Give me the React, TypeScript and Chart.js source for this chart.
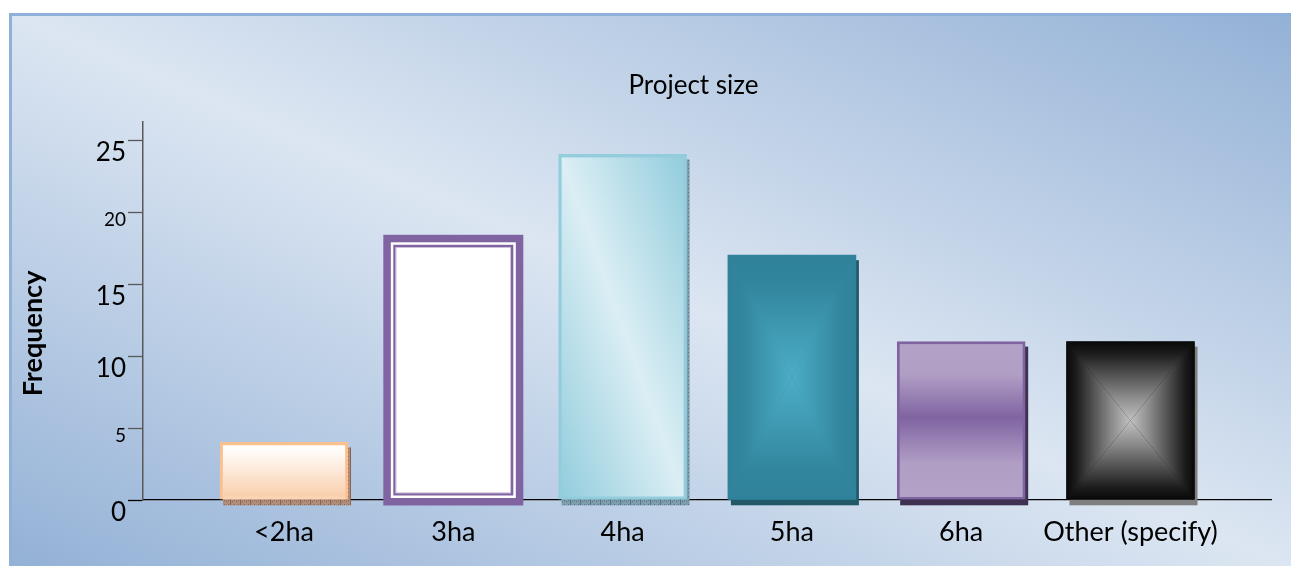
import React, { useEffect, useRef } from 'react';
import { Chart, registerables } from 'chart.js';

Chart.register(...registerables);

const categories = ['<2ha', '3ha', '4ha', '5ha', '6ha', 'Other (specify)'];
const frequencies = [4, 18, 24, 17, 11, 11];
const yTickValues = [0, 5, 10, 15, 20, 25];
const largeYTicks = [0, 10, 15, 25];
const chartTitle = 'Project size';
const yAxisTitle = 'Frequency';

const W = 1291;
const H = 566;
const FONT = 'Lato, "Open Sans", sans-serif';

type Stop = [number, string];

function diagGradient(ctx: CanvasRenderingContext2D, x0: number, y0: number, x1: number, y1: number, stops: Stop[]) {
  const w = x1 - x0;
  const h = y1 - y0;
  const cx = (x0 + x1) / 2;
  const cy = (y0 + y1) / 2;
  const L = Math.hypot(w, h);
  const nx = h / L;
  const ny = -w / L;
  const k = (w * h) / L;
  const g = ctx.createLinearGradient(cx - k * nx, cy - k * ny, cx + k * nx, cy + k * ny);
  stops.forEach(([o, c]) => g.addColorStop(o, c));
  return g;
}

function rectPathFill(ctx: CanvasRenderingContext2D, x0: number, y0: number, x1: number, y1: number, stops: Stop[]) {
  const cx = (x0 + x1) / 2;
  const cy = (y0 + y1) / 2;
  const mk = (ax: number, ay: number, bx: number, by: number) => {
    const g = ctx.createLinearGradient(ax, ay, bx, by);
    stops.forEach(([o, c]) => g.addColorStop(o, c));
    return g;
  };
  const tris: [number, number, number, number, CanvasGradient][] = [
    [x0, y0, x1, y0, mk(cx, y0, cx, cy)],
    [x1, y0, x1, y1, mk(x1, cy, cx, cy)],
    [x1, y1, x0, y1, mk(cx, y1, cx, cy)],
    [x0, y1, x0, y0, mk(x0, cy, cx, cy)],
  ];
  ctx.save();
  ctx.beginPath();
  ctx.rect(x0, y0, x1 - x0, y1 - y0);
  ctx.clip();
  for (const [ax, ay, bx, by, g] of tris) {
    ctx.beginPath();
    ctx.moveTo(ax, ay);
    ctx.lineTo(bx, by);
    ctx.lineTo(cx, cy);
    ctx.closePath();
    ctx.fillStyle = g;
    ctx.fill();
  }
  ctx.restore();
}

function makeHatch(ctx: CanvasRenderingContext2D, base: string, dark: string) {
  const c = document.createElement('canvas');
  c.width = 10;
  c.height = 4;
  const p = c.getContext('2d')!;
  p.fillStyle = base;
  p.fillRect(0, 0, 10, 4);
  p.fillStyle = dark;
  p.fillRect(0, 0, 1, 4);
  for (let x = 2; x < 10; x += 2) p.fillRect(x, (x / 2) % 2, 1, 1);
  return ctx.createPattern(c, 'repeat');
}

function barRects(chart: any) {
  const meta = chart.getDatasetMeta(0);
  return meta.data.map((el: any) => {
    const p = el.getProps(['x', 'y', 'base', 'width'], true);
    return {
      l: p.x - p.width / 2,
      r: p.x + p.width / 2,
      t: Math.min(p.y, p.base),
      b: Math.max(p.y, p.base),
    };
  });
}

const decorPlugin = {
  id: 'decor',
  beforeDraw(chart: any) {
    const ctx: CanvasRenderingContext2D = chart.ctx;
    ctx.save();
    ctx.fillStyle = '#ffffff';
    ctx.fillRect(0, 0, W, H);
    const fx0 = 9;
    const fy0 = 13;
    ctx.fillStyle = diagGradient(ctx, fx0, fy0, W, H, [
      [0, '#93b1d6'],
      [0.5, '#dce6f2'],
      [1, '#93b1d6'],
    ]);
    ctx.fillRect(fx0, fy0, W - fx0, H - fy0);
    ctx.strokeStyle = '#8fb0d9';
    ctx.lineWidth = 3;
    ctx.strokeRect(10.5, 14.5, W + 10, H + 10);
    ctx.restore();
  },
  beforeDatasetsDraw(chart: any) {
    const ctx: CanvasRenderingContext2D = chart.ctx;
    const rects = barRects(chart);
    const shadows: any[] = [
      makeHatch(ctx, '#b08d7b', '#8a6552'),
      null,
      makeHatch(ctx, '#7f9ead', '#557585'),
      '#215968',
      '#3f3151',
      '#7f7f7f',
    ];
    ctx.save();
    rects.forEach((r: any, i: number) => {
      const s = shadows[i];
      if (!s) return;
      ctx.fillStyle = s;
      ctx.fillRect(r.l + 3, r.t + 5, r.r - r.l, r.b - r.t + 0.8);
    });
    ctx.restore();
  },
  afterDatasetsDraw(chart: any) {
    const ctx: CanvasRenderingContext2D = chart.ctx;
    const rects = barRects(chart);
    ctx.save();
    rects.forEach((r: any, i: number) => {
      const { l, t, b } = r;
      const rr = r.r;
      if (i === 0) {
        const g = ctx.createLinearGradient(0, t + 3, 0, b - 3);
        g.addColorStop(0, '#ffffff');
        g.addColorStop(0.15, '#fffaf6');
        g.addColorStop(1, '#f9cfac');
        ctx.fillStyle = g;
        ctx.fillRect(l + 3, t + 3, rr - l - 6, b - t - 6);
      } else if (i === 1) {
        ctx.strokeStyle = '#8064a2';
        ctx.lineWidth = 7.5;
        ctx.strokeRect(l - 2.25, t - 2.25, rr - l + 4.5, b - t + 4.5);
        ctx.lineWidth = 2.3;
        ctx.strokeRect(l + 5.15, t + 5.15, rr - l - 10.3, b - t - 10.3);
        ctx.strokeStyle = '#c3b5d6';
        ctx.lineWidth = 0.8;
        ctx.strokeRect(l + 6.7, t + 6.7, rr - l - 13.4, b - t - 13.4);
      } else if (i === 2) {
        ctx.fillStyle = diagGradient(ctx, l + 3, t + 3, rr - 3, b - 3, [
          [0, '#93cddd'],
          [0.5, '#dbeef4'],
          [1, '#93cddd'],
        ]);
        ctx.fillRect(l + 3, t + 3, rr - l - 6, b - t - 6);
      } else if (i === 3) {
        rectPathFill(ctx, l, t, rr, b, [
          [0, '#2f8299'],
          [0.22, '#31859c'],
          [1, '#4cadc7'],
        ]);
      } else if (i === 4) {
        const g = ctx.createLinearGradient(0, t + 2.5, 0, b - 2.5);
        g.addColorStop(0, '#b3a2c7');
        g.addColorStop(0.2, '#b09ec5');
        g.addColorStop(0.48, '#8064a2');
        g.addColorStop(0.78, '#b09ec5');
        g.addColorStop(1, '#b3a2c7');
        ctx.fillStyle = g;
        ctx.fillRect(l + 2.5, t + 2.5, rr - l - 5, b - t - 5);
      } else if (i === 5) {
        rectPathFill(ctx, l, t, rr, b, [
          [0, '#080808'],
          [0.15, '#1c1c1c'],
          [0.7, '#8a8a8a'],
          [1, '#c2c2c2'],
        ]);
      }
    });
    ctx.restore();
  },
  afterDraw(chart: any) {
    const ctx: CanvasRenderingContext2D = chart.ctx;
    ctx.save();
    ctx.fillStyle = '#000000';
    ctx.font = `26px ${FONT}`;
    ctx.textAlign = 'center';
    ctx.textBaseline = 'middle';
    ctx.fillText(chartTitle, 693.5, 85.6);
    ctx.translate(41.5, 333.5);
    ctx.rotate(-Math.PI / 2);
    ctx.font = `bold 27px ${FONT}`;
    ctx.textBaseline = 'alphabetic';
    ctx.fillText(yAxisTitle, 0, 0);
    ctx.restore();
  },
};

export default function App() {
  const ref = useRef<HTMLCanvasElement>(null);
  useEffect(() => {
    const canvas = ref.current;
    if (!canvas) return;
    const chart = new Chart(canvas, {
      type: 'bar',
      data: {
        datasets: [
          {
            label: chartTitle,
            data: frequencies.map((v, i) => ({ x: i, y: v })),
            backgroundColor: ['#fcd5b5', '#ffffff', '#93cddd', '#31849b', '#8064a2', '#0d0d0d'],
            borderColor: ['#fac090', '#8064a2', '#93cddd', '#31849b', '#8064a2', '#0d0d0d'],
            borderWidth: [3, 0, 3, 0, 2.5, 0],
            barThickness: 128,
          } as any,
        ],
      },
      options: {
        responsive: false,
        maintainAspectRatio: false,
        animation: false,
        devicePixelRatio: 1,
        layout: { padding: { left: 0, right: 20, top: 122, bottom: 0 } },
        plugins: {
          legend: { display: false },
          tooltip: { enabled: false },
          title: { display: false },
        },
        scales: {
          x: {
            type: 'linear',
            min: -0.833,
            max: 5.83,
            offset: false,
            afterFit(s: any) {
              s.height = 66;
            },
            afterBuildTicks(s: any) {
              s.ticks = categories.map((_, i) => ({ value: i }));
            },
            grid: { offset: false, drawOnChartArea: false, tickLength: 5, tickColor: '#7f7f7f', tickWidth: 1 },
            border: { display: true, color: '#000000', width: 1.3 },
            ticks: {
              autoSkip: false,
              maxRotation: 0,
              minRotation: 0,
              padding: 11,
              color: '#000000',
              font: { family: FONT, size: 27 },
              callback: (v: any) => categories[v] ?? '',
            },
          },
          y: {
            type: 'linear',
            min: 0,
            max: 26.25,
            afterFit(s: any) {
              s.width = 143;
            },
            afterBuildTicks(s: any) {
              s.ticks = yTickValues.map((v) => ({ value: v }));
            },
            grid: {
              drawOnChartArea: false,
              tickLength: 15,
              tickWidth: 1.3,
              tickColor: (c: any) => (c.tick && c.tick.value === 0 ? '#000000' : '#595959'),
            },
            border: { display: true, color: '#595959', width: 1.5 },
            ticks: {
              padding: 2,
              color: '#000000',
              font: (c: any) => {
                const big = c.tick ? largeYTicks.includes(c.tick.value) : true;
                return { family: FONT, size: big ? 26 : 19, lineHeight: big ? '26px' : '16px' };
              },
              callback: (v: any) => ['', String(v)],
            },
          },
        },
      } as any,
      plugins: [decorPlugin],
    });
    return () => chart.destroy();
  }, []);
  return (
    <div style={{ position: 'absolute', left: 0, top: 0, width: W, height: H }}>
      <canvas ref={ref} width={W} height={H} style={{ display: 'block', width: W, height: H }} />
    </div>
  );
}
